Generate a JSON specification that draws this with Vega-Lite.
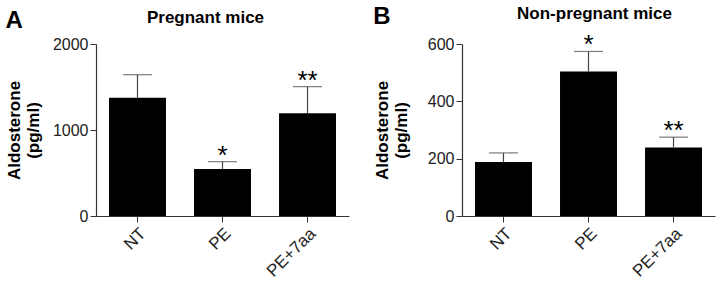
{
  "$schema": "https://vega.github.io/schema/vega-lite/v6.json",
  "background": "white",
  "padding": {"left": 5, "top": 5, "right": 5, "bottom": 5},
  "config": {
    "view": {"stroke": null},
    "font": "Liberation Sans",
    "axis": {
      "domainColor": "#333",
      "tickColor": "#333",
      "labelColor": "#222",
      "titleColor": "#000",
      "grid": false,
      "labelFont": "Liberation Sans",
      "titleFont": "Liberation Sans"
    },
    "title": {"font": "Liberation Sans", "fontWeight": "bold", "color": "#000"}
  },
  "datasets": {
    "preg": [
      {"group": "NT", "value": 1376, "err": 1643, "sig": ""},
      {"group": "PE", "value": 547, "err": 632, "sig": "*"},
      {"group": "PE+7aa", "value": 1194, "err": 1504, "sig": "**"}
    ],
    "nonpreg": [
      {"group": "NT", "value": 188, "err": 220, "sig": ""},
      {"group": "PE", "value": 504, "err": 574, "sig": "*"},
      {"group": "PE+7aa", "value": 239, "err": 275, "sig": "**"}
    ]
  },
  "spacing": 24,
  "hconcat": [
    {
      "title": {"text": "A", "anchor": "start", "frame": "bounds", "fontSize": 24, "offset": 0, "dy": 24, "dx": 0},
      "vconcat": [
        {
          "width": 253,
          "height": 172,
          "data": {"name": "preg"},
          "title": {"text": "Pregnant mice", "fontSize": 17, "offset": 9, "dx": -17},
          "encoding": {
            "x": {
              "field": "group", "type": "nominal", "sort": null,
              "scale": {"paddingInner": 0.33, "paddingOuter": 0.153},
              "axis": {"title": null, "labelAngle": -45, "labelFontSize": 17, "tickSize": 6, "labelPadding": 3, "domainWidth": 1.2}
            }
          },
          "layer": [
            {
              "mark": {"type": "bar", "color": "#000"},
              "encoding": {
                "y": {
                  "field": "value", "type": "quantitative",
                  "scale": {"domain": [0, 2000], "nice": false},
                  "axis": {"values": [0, 1000, 2000], "format": "d", "title": ["Aldosterone", "(pg/ml)"], "titleFontSize": 17, "titleFontWeight": "bold", "titlePadding": 10, "labelFontSize": 16, "tickSize": 6, "labelPadding": 2, "domainWidth": 1.2}
                }
              }
            },
            {
              "mark": {"type": "rule", "color": "#444", "strokeWidth": 1.2},
              "encoding": {"y": {"field": "value", "type": "quantitative"}, "y2": {"field": "err"}}
            },
            {
              "mark": {"type": "tick", "color": "#444", "size": 29, "thickness": 1.2},
              "encoding": {"y": {"field": "err", "type": "quantitative"}}
            },
            {
              "mark": {"type": "text", "fontSize": 26, "baseline": "alphabetic", "dy": 2, "color": "#000"},
              "encoding": {"y": {"field": "err", "type": "quantitative"}, "text": {"field": "sig"}}
            }
          ]
        }
      ]
    },
    {
      "title": {"text": "B", "anchor": "start", "frame": "bounds", "fontSize": 24, "offset": 0, "dy": 24, "dx": 0},
      "vconcat": [
        {
          "width": 253,
          "height": 172,
          "data": {"name": "nonpreg"},
          "title": {"text": "Non-pregnant mice", "fontSize": 17, "offset": 9, "dx": 6},
          "encoding": {
            "x": {
              "field": "group", "type": "nominal", "sort": null,
              "scale": {"paddingInner": 0.33, "paddingOuter": 0.153},
              "axis": {"title": null, "labelAngle": -45, "labelFontSize": 17, "tickSize": 6, "labelPadding": 3, "domainWidth": 1.2}
            }
          },
          "layer": [
            {
              "mark": {"type": "bar", "color": "#000"},
              "encoding": {
                "y": {
                  "field": "value", "type": "quantitative",
                  "scale": {"domain": [0, 600], "nice": false},
                  "axis": {"values": [0, 200, 400, 600], "format": "d", "title": ["Aldosterone", "(pg/ml)"], "titleFontSize": 17, "titleFontWeight": "bold", "titlePadding": 17, "labelFontSize": 16, "tickSize": 6, "labelPadding": 2, "domainWidth": 1.2}
                }
              }
            },
            {
              "mark": {"type": "rule", "color": "#444", "strokeWidth": 1.2},
              "encoding": {"y": {"field": "value", "type": "quantitative"}, "y2": {"field": "err"}}
            },
            {
              "mark": {"type": "tick", "color": "#444", "size": 29, "thickness": 1.2},
              "encoding": {"y": {"field": "err", "type": "quantitative"}}
            },
            {
              "mark": {"type": "text", "fontSize": 26, "baseline": "alphabetic", "dy": 2, "color": "#000"},
              "encoding": {"y": {"field": "err", "type": "quantitative"}, "text": {"field": "sig"}}
            }
          ]
        }
      ]
    }
  ]
}
